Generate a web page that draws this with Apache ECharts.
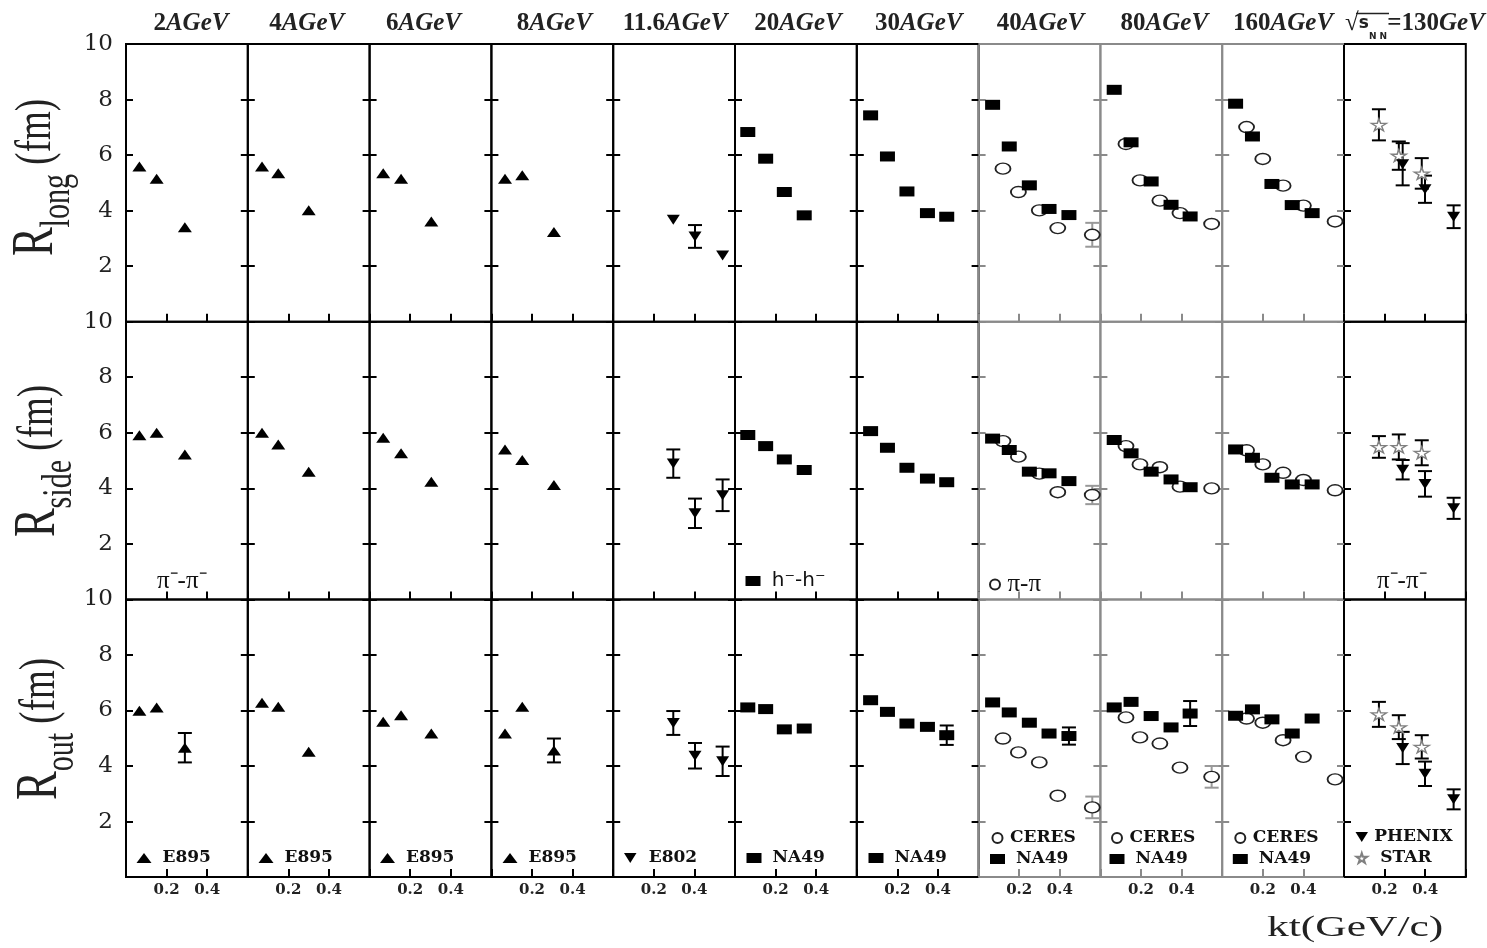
<!DOCTYPE html>
<html><head><meta charset="utf-8">
<script src="https://cdn.jsdelivr.net/npm/echarts@6/dist/echarts.min.js"></script>
<style>html,body{margin:0;padding:0;background:#fff}#c{width:1487px;height:948px}</style>
</head><body><div id="c"></div>
<script>
// ---------------- DATA ----------------
const energies = ['2','4','6','8','11.6','20','30','40','80','160'];
const rhicEnergy = '130';
const yTickLabels = ['2','4','6','8','10'];
const xTickLabels = ['0.2','0.4'];
const rowSubs = ['long','side','out'];

// E895 (2, 4, 6, 8 AGeV)
const e895Kt   = [[0.066,0.151,0.290],[0.070,0.150,0.300],[0.067,0.155,0.304],[0.067,0.152,0.308]];
const e895Long = [[5.59,5.15,3.40],[5.59,5.35,4.01],[5.35,5.15,3.61],[5.15,5.27,3.23]];
const e895Side = [[5.91,6.00,5.22],[6.00,5.58,4.60],[5.82,5.26,4.24],[5.40,5.02,4.12]];
const e895Out  = [[5.99,6.11,4.66],[6.28,6.13,4.51],[5.59,5.83,5.17],[5.17,6.13,4.56]];
const e895OutErr = [[0,0,0.53],[0,0,0],[0,0,0],[0,0,0.43]];

// E802 (11.6 AGeV)
const e802Kt      = [0.296,0.403,0.539];
const e802Long    = [3.67,3.07,2.38];
const e802LongErr = [0,0.41,0];
const e802Side    = [4.89,3.10,3.75];
const e802SideErr = [0.51,0.53,0.57];
const e802Out     = [5.55,4.37,4.17];
const e802OutErr  = [0.43,0.46,0.53];

// NA49 (20, 30, 40, 80, 160 AGeV)
const na49Kt = [[0.063,0.151,0.243,0.341],[0.068,0.151,0.247,0.348,0.443],[0.069,0.151,0.250,0.347,0.445],[0.068,0.151,0.250,0.348,0.442],[0.066,0.149,0.245,0.345,0.443]];
const na49Long = [[6.83,5.87,4.67,3.83],[7.43,5.95,4.69,3.91,3.78],[7.81,6.31,4.91,4.06,3.84],[8.35,6.46,5.05,4.21,3.79],[7.85,6.67,4.96,4.20,3.91]];
const na49Side = [[5.92,5.52,5.04,4.66],[6.06,5.46,4.74,4.35,4.22],[5.79,5.38,4.60,4.54,4.26],[5.74,5.26,4.60,4.32,4.04],[5.40,5.10,4.38,4.14,4.14]];
const na49Out  = [[6.11,6.05,5.32,5.35],[6.37,5.95,5.53,5.41,5.11],[6.29,5.93,5.56,5.17,5.08],[6.11,6.31,5.80,5.39,5.89],[5.81,6.04,5.68,5.17,5.71]];
const na49OutErr = [[0,0,0,0],[0,0,0,0,0.35],[0,0,0,0,0.31],[0,0,0,0,0.45],[0,0,0,0,0]];

// CERES (40, 80, 160 AGeV)
const ceresKt   = [[0.120,0.196,0.299,0.390,0.560],[0.126,0.195,0.293,0.392,0.548],[0.120,0.200,0.300,0.400,0.556]];
const ceresLong = [[5.51,4.67,4.01,3.37,3.13],[6.40,5.09,4.36,3.91,3.52],[7.01,5.86,4.90,4.18,3.61]];
const ceresSide = [[5.70,5.14,4.53,3.86,3.76],[5.52,4.86,4.76,4.06,4.00],[5.37,4.86,4.56,4.30,3.93]];
const ceresOut  = [[4.99,4.49,4.13,2.93,2.51],[5.75,5.03,4.81,3.94,3.61],[5.71,5.56,4.93,4.33,3.52]];
const ceresLongErr = [[0,0,0,0,0.43],[0,0,0,0,0],[0,0,0,0,0]];
const ceresSideErr = [[0,0,0,0,0.33],[0,0,0,0,0],[0,0,0,0,0]];
const ceresOutErr  = [[0,0,0,0,0.39],[0,0,0,0,0.39],[0,0,0,0,0]];

// STAR and PHENIX (sqrt(sNN)=130 GeV)
const starKt = [0.172,0.270,0.383];
const starLong = [7.09,5.98,5.34]; const starLongErr = [0.56,0.51,0.55];
const starSide = [5.49,5.49,5.28]; const starSideErr = [0.39,0.45,0.45];
const starOut  = [5.86,5.40,4.69]; const starOutErr  = [0.45,0.43,0.42];
const phenixKt = [0.289,0.399,0.540];
const phenixLong = [5.67,4.77,3.78]; const phenixLongErr = [0.76,0.49,0.41];
const phenixSide = [4.67,4.16,3.28]; const phenixSideErr = [0.35,0.46,0.38];
const phenixOut  = [4.65,3.72,2.80]; const phenixOutErr  = [0.58,0.44,0.36];

// ---------------- LAYOUT ----------------
const PL = 126, PW = 121.8, PT = 44, PH = 277.7, NP = 11;
const headerDx = [4,-2,-7,2,1,2,1,1,3,0,10];
const grayPanels = [7,8,9];

const rowsData = [
  {e895:e895Long, e895Err:null, e802:e802Long, e802Err:e802LongErr, na49:na49Long, na49Err:null, ceres:ceresLong, ceresErr:ceresLongErr, star:starLong, starErr:starLongErr, phenix:phenixLong, phenixErr:phenixLongErr},
  {e895:e895Side, e895Err:null, e802:e802Side, e802Err:e802SideErr, na49:na49Side, na49Err:null, ceres:ceresSide, ceresErr:ceresSideErr, star:starSide, starErr:starSideErr, phenix:phenixSide, phenixErr:phenixSideErr},
  {e895:e895Out, e895Err:e895OutErr, e802:e802Out, e802Err:e802OutErr, na49:na49Out, na49Err:na49OutErr, ceres:ceresOut, ceresErr:ceresOutErr, star:starOut, starErr:starOutErr, phenix:phenixOut, phenixErr:phenixOutErr}
];

const STAR_PATH = 'path://M50,0 L61,35 L98,35 L68,57 L79,91 L50,70 L21,91 L32,57 L2,35 L39,35 Z';
const INV_TRI = 'path://M0,0 L10,0 L5,8 Z';
const styles = {
  E895:   {symbol:'triangle', size:[14,10], itemStyle:{color:'#000', opacity:1}, err:'#000'},
  E802:   {symbol:INV_TRI, size:[13,10], itemStyle:{color:'#000', opacity:1}, err:'#000'},
  NA49:   {symbol:'rect', size:[15,10], itemStyle:{color:'#000', opacity:1}, err:'#000'},
  CERES:  {symbol:'circle', size:[15,11], itemStyle:{color:'#fff', borderColor:'#222', borderWidth:1.6, opacity:1}, err:'#999'},
  STAR:   {symbol:STAR_PATH, size:[15,12], itemStyle:{color:'#fff', borderColor:'#808080', borderWidth:1.4, opacity:1}, err:'#000'},
  PHENIX: {symbol:INV_TRI, size:[13,10], itemStyle:{color:'#000', opacity:1}, err:'#000'}
};

const grids = [], xAxes = [], yAxes = [], series = [];
for (let r = 0; r < 3; r++) {
  for (let p = 0; p < NP; p++) {
    const g = r*NP + p;
    const col = grayPanels.includes(p) ? '#8a8a8a' : '#000';
    grids.push({left: PL + p*PW, top: PT + r*PH, width: PW, height: PH, show: true,
      borderColor: col, borderWidth: 2, backgroundColor: 'transparent', outerBoundsMode: 'none'});
    xAxes.push({gridIndex: g, type: 'value', min: 0, max: 0.6, interval: 0.2, position: 'bottom',
      axisLine: {show: false}, splitLine: {show: false},
      axisTick: {show: true, inside: true, length: 8, lineStyle: {color: col, width: 2}},
      axisLabel: {show: r === 2, margin: 6, color: '#222', fontFamily: 'DejaVu Serif', fontWeight: 'bold', fontSize: 15,
        formatter: v => { const s = String(+(+v).toFixed(1)); return xTickLabels.includes(s) ? s : ''; }}});
    yAxes.push({gridIndex: g, type: 'value', min: 0, max: 10, interval: 2, position: 'left',
      axisLine: {show: false}, splitLine: {show: false},
      axisTick: {show: true, inside: true, length: 7, lineStyle: {color: col, width: 2}},
      axisLabel: {show: p === 0, margin: 13, color: '#222', fontFamily: 'DejaVu Serif', fontSize: 23,
        formatter: v => { const s = String(v); return yTickLabels.includes(s) ? s : ''; }}});
    yAxes.push({gridIndex: g, type: 'value', min: 0, max: 10, interval: 2, position: 'right',
      axisLine: {show: false}, splitLine: {show: false}, axisLabel: {show: false},
      axisTick: {show: p !== NP-1, inside: true, length: 7, lineStyle: {color: col, width: 2}}});
  }
}

function errRenderer(color) {
  return function (params, api) {
    const x = api.value(0), y = api.value(1), e = api.value(2);
    if (!e) return null;
    const hi = api.coord([x, y + e]), lo = api.coord([x, y - e]);
    const hw = 7, st = {stroke: color, lineWidth: 2};
    return {type: 'group', children: [
      {type: 'line', shape: {x1: hi[0], y1: hi[1], x2: lo[0], y2: lo[1]}, style: st},
      {type: 'line', shape: {x1: hi[0]-hw, y1: hi[1], x2: hi[0]+hw, y2: hi[1]}, style: st},
      {type: 'line', shape: {x1: lo[0]-hw, y1: lo[1], x2: lo[0]+hw, y2: lo[1]}, style: st}
    ]};
  };
}

function addSet(p, r, name, kt, vals, errs) {
  const g = r*NP + p, s = styles[name];
  if (errs) {
    series.push({type: 'custom', name: name + ' err', xAxisIndex: g, yAxisIndex: 2*g, z: 1, silent: true,
      data: kt.map((k, i) => [k, vals[i], errs[i]]), encode: {x: 0, y: 1}, renderItem: errRenderer(s.err)});
  }
  series.push({type: 'scatter', name, xAxisIndex: g, yAxisIndex: 2*g, z: 2, silent: true,
    symbol: s.symbol, symbolSize: s.size, symbolKeepAspect: false, itemStyle: s.itemStyle,
    data: kt.map((k, i) => [k, vals[i]])});
}

rowsData.forEach((d, r) => {
  for (let p = 0; p < 4; p++) addSet(p, r, 'E895', e895Kt[p], d.e895[p], d.e895Err && d.e895Err[p]);
  addSet(4, r, 'E802', e802Kt, d.e802, d.e802Err);
  for (let q = 0; q < 5; q++) {
    if (q >= 2) addSet(5+q, r, 'CERES', ceresKt[q-2], d.ceres[q-2], d.ceresErr[q-2]);
    addSet(5+q, r, 'NA49', na49Kt[q], d.na49[q], d.na49Err && d.na49Err[q]);
  }
  addSet(10, r, 'STAR', starKt, d.star, d.starErr);
  addSet(10, r, 'PHENIX', phenixKt, d.phenix, d.phenixErr);
});

// ---------------- LEGENDS ----------------
const legTxt = {fontFamily: 'DejaVu Serif', fontWeight: 'bold', fontSize: 17, color: '#111', lineHeight: 18};
const tightNames = ['CERES','PHENIX'];
function leg(names, left, top, extra) {
  return Object.assign({show: true, selectedMode: false, padding: 0, orient: 'vertical', itemGap: 3,
    itemWidth: 15, itemHeight: 10, left, top, data: names, textStyle: legTxt,
    formatter: n => (tightNames.includes(n) ? n : ' ' + n)}, extra || {});
}
const legends = [
  leg(['E895'], 136.5, 849), leg(['E895'], 258.5, 849), leg(['E895'], 380, 849), leg(['E895'], 502.5, 849),
  leg(['E802'], 624, 849), leg(['NA49'], 746.5, 849), leg(['NA49'], 868.5, 849),
  leg(['CERES','NA49'], 990, 829), leg(['CERES','NA49'], 1109.5, 829), leg(['CERES','NA49'], 1232.8, 829),
  leg(['PHENIX','STAR'], 1355.5, 828),
  leg(['NA49'], 745.5, 571, {formatter: () => ' h\u207B-h\u207B', textStyle: {fontFamily: 'DejaVu Sans', fontSize: 20, color: '#111', lineHeight: 18}}),
  leg(['CERES'], 989, 572, {formatter: () => '\u03C0-\u03C0', textStyle: {fontFamily: 'Liberation Serif', fontSize: 25, color: '#111', lineHeight: 18}})
];

// ---------------- TEXT GRAPHICS ----------------
const serif = 'Liberation Serif';
const hdrRich = {
  n: {fontFamily: serif, fontWeight: 'bold', fontSize: 25, fill: '#222'},
  u: {fontFamily: serif, fontWeight: 'bold', fontStyle: 'italic', fontSize: 25, fill: '#222'},
  s: {fontFamily: 'DejaVu Sans', fontWeight: 'bold', fontSize: 17, fill: '#222'},
  sub: {fontFamily: 'DejaVu Sans', fontWeight: 'bold', fontSize: 9, fill: '#222', lineHeight: 34, verticalAlign: 'bottom'}
};
const graphics = [];
energies.forEach((e, p) => {
  graphics.push({type: 'text', x: PL + (p+0.5)*PW + headerDx[p], y: 24, silent: true,
    style: {text: '{n|' + e + '}{u|AGeV}', align: 'center', verticalAlign: 'middle', rich: hdrRich}});
});
graphics.push({type: 'text', x: PL + 10.5*PW + headerDx[10], y: 24, silent: true,
  style: {text: '{n|\u221A}{s|s}{sub|N N}{n|=' + rhicEnergy + '}{u|GeV}', align: 'center', verticalAlign: 'middle', rich: hdrRich}});
graphics.push({type: 'line', silent: true, shape: {x1: 1356, y1: 13.5, x2: 1389, y2: 13.5}, style: {stroke: '#222', lineWidth: 1.5}});

const yTitleCenters = [[36,177.5],[38,461],[40,729]];
rowSubs.forEach((sub, r) => {
  graphics.push({type: 'text', x: yTitleCenters[r][0], y: yTitleCenters[r][1], rotation: Math.PI/2, scaleX: 0.86, scaleY: 1.2, silent: true,
    style: {text: '{a|R}{b|' + sub + '}{c| (fm)}', align: 'center', verticalAlign: 'middle',
      rich: {a: {fontFamily: serif, fontSize: 50, lineHeight: 60, verticalAlign: 'middle', fill: '#222'},
             b: {fontFamily: serif, fontSize: 35, lineHeight: 72, verticalAlign: 'bottom', fill: '#222'},
             c: {fontFamily: serif, fontSize: 43, lineHeight: 60, verticalAlign: 'middle', fill: '#222'}}}});
});
graphics.push({type: 'text', x: 1267, y: 928, scaleX: 1.45, silent: true,
  style: {text: 'kt(GeV/c)', fontFamily: serif, fontSize: 30, align: 'left', verticalAlign: 'middle', fill: '#222'}});
graphics.push({type: 'text', x: 157, y: 581, silent: true,
  style: {text: '\u03C0\u207B-\u03C0\u207B', fontFamily: serif, fontSize: 25, align: 'left', verticalAlign: 'middle', fill: '#111'}});
graphics.push({type: 'text', x: 1377, y: 581, silent: true,
  style: {text: '\u03C0\u207B-\u03C0\u207B', fontFamily: serif, fontSize: 25, align: 'left', verticalAlign: 'middle', fill: '#111'}});

const chart = echarts.init(document.getElementById('c'), null, {renderer: 'canvas'});
chart.setOption({
  animation: false,
  backgroundColor: '#fff',
  grid: grids, xAxis: xAxes, yAxis: yAxes, series,
  legend: legends,
  graphic: graphics
});
</script></body></html>
